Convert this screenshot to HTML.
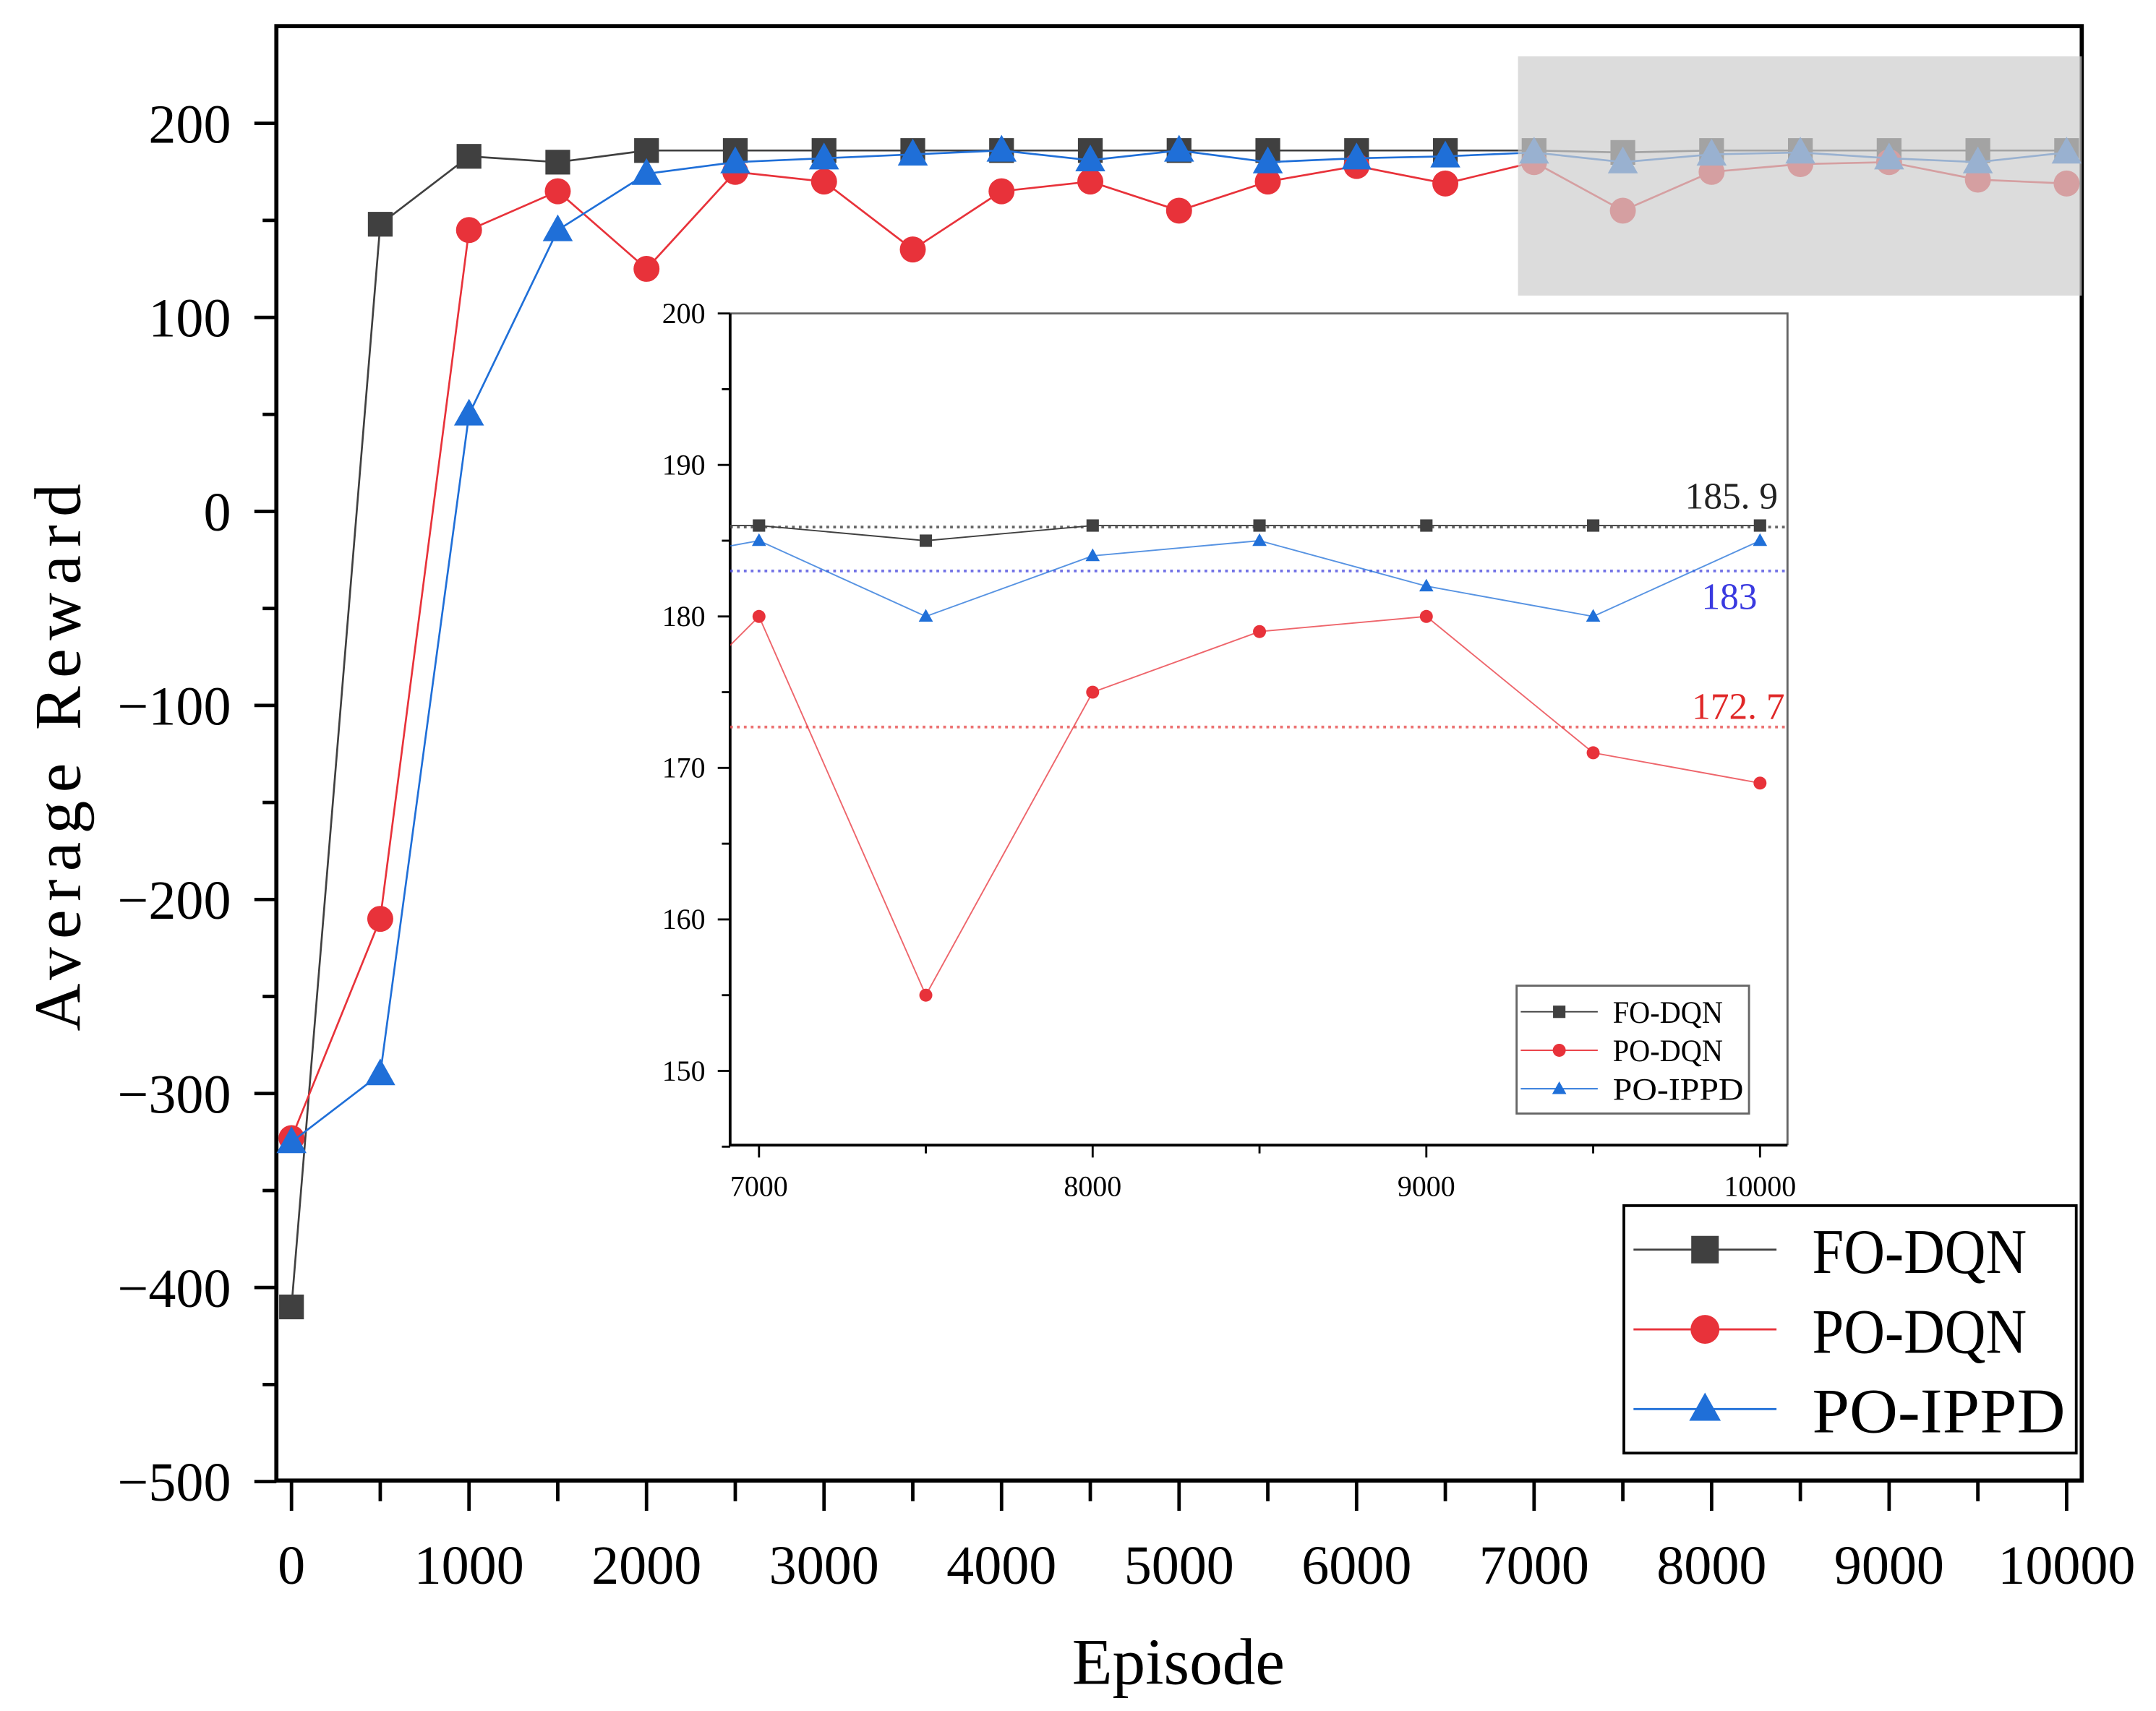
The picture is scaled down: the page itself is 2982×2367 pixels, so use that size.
<!DOCTYPE html>
<html><head><meta charset="utf-8"><style>
html,body{margin:0;padding:0;background:#fff}
svg{display:block}
text{font-family:"Liberation Serif","Noto Serif CJK SC",serif}
</style></head><body>
<svg id="chart" width="2982" height="2367" viewBox="0 0 1568 1244.6" xmlns="http://www.w3.org/2000/svg">
<defs>
<clipPath id="mainclip"><rect x="201" y="19" width="1313" height="1058"/></clipPath>
<clipPath id="insetclip"><rect x="531" y="229" width="768" height="603"/></clipPath>
</defs>
<g id="main"></g>
<g id="inset"></g>
</svg>
<script>
const episodes = [0,500,1000,1500,2000,2500,3000,3500,4000,4500,5000,5500,6000,6500,7000,7500,8000,8500,9000,9500,10000];
const foDqn  = [-410,148,183,180,186,186,186,186,186,186,186,186,186,186,186,185,186,186,186,186,186];
const poDqn  = [-323,-210,145,165,125,175,170,135,165,170,155,170,178,169,180,155,175,179,180,171,169];
const poIppd = [-325,-290,50,145,174,180,182,184,186,181,186,180,182,183,185,180,184,185,182,180,185];
const xTicks = [0,1000,2000,3000,4000,5000,6000,7000,8000,9000,10000];
const yTicks = [-500,-400,-300,-200,-100,0,100,200];
const insetXTicks = [7000,8000,9000,10000];
const insetYTicks = [150,160,170,180,190,200];
const meanLabels = ["185.9","183","172.7"];
const meanValues = [185.9,183,172.7];

const NS="http://www.w3.org/2000/svg";
function mk(parent,tag,attrs,txt){const e=document.createElementNS(NS,tag);for(const k in attrs)e.setAttribute(k,attrs[k]);if(txt!==undefined)e.textContent=txt;parent.appendChild(e);return e;}
const colors={fo:"#404040",po:"#e8323a",ip:"#1f6fd8"};
const series=[["fo",foDqn,"fo-dqn"],["po",poDqn,"po-dqn"],["ip",poIppd,"po-ippd"]];

function marker(g,type,x,y,s,color,name){
  let e;
  if(type==="fo") e=mk(g,"rect",{x:x-s,y:y-s,width:2*s,height:2*s,fill:color});
  else if(type==="po") e=mk(g,"circle",{cx:x,cy:y,r:s*1.05,fill:color});
  else e=mk(g,"polygon",{points:`${x},${y-s*1.2} ${x-s*1.15},${y+s*0.85} ${x+s*1.15},${y+s*0.85}`,fill:color});
  
  
  return e;
}

// MAIN
const M=document.getElementById('main');
const mx=v=>212+v*0.12910, my=v=>372-v*1.4114;
const ax=mk(M,"g",{});


mk(ax,"rect",{x:201,y:19,width:1313,height:1058,fill:"none",stroke:"#000","stroke-width":3});
for(let v=0;v<=10000;v+=500){const X=mx(v);mk(ax,"line",{x1:X,y1:1078,x2:X,y2:v%1000?1092:1099,stroke:"#000","stroke-width":2.5});}
for(let v=-500;v<=200;v+=50){const Y=my(v);mk(ax,"line",{x1:201,y1:Y,x2:v%100?191:185,y2:Y,stroke:"#000","stroke-width":2.5});}
xTicks.forEach(v=>{const t=mk(ax,"text",{x:mx(v),y:1152,"font-size":40,"text-anchor":"middle"},v);});
yTicks.forEach(v=>{const t=mk(ax,"text",{x:168,y:my(v)+14,"font-size":40,"text-anchor":"end"},v===0?"0":String(v).replace("-","\u2212"));});
let t=mk(M,"text",{x:857,y:1225,"font-size":48,"text-anchor":"middle"},"Episode");

t=mk(M,"text",{x:0,y:0,"font-size":48,"text-anchor":"middle",transform:"translate(58,548) rotate(-90)","letter-spacing":"6"},"Average Reward");

const mg=mk(M,"g",{"clip-path":"url(#mainclip)"});
series.forEach(([k,arr,nm])=>{
  mk(mg,"polyline",{points:episodes.map((e,i)=>mx(e)+","+my(arr[i])).join(" "),fill:"none",stroke:colors[k],"stroke-width":1.4});
  episodes.forEach((e,i)=>marker(mg,k,mx(e),my(arr[i]),k==="ip"?9.5:9,colors[k],nm+'-point'));
});
const hl=mk(M,"rect",{x:1104,y:41,width:410,height:174,fill:"rgba(205,205,205,0.7)"});

// main legend
const L=mk(M,"g",{});

mk(L,"rect",{x:1181,y:877,width:329,height:180,fill:"#fff",stroke:"#000","stroke-width":2});
[["fo","FO-DQN"],["po","PO-DQN"],["ip","PO-IPPD"]].forEach(([k,lab],i)=>{
  const y=909+i*58;
  const le=mk(L,"g",{});
  
  mk(le,"line",{x1:1188,y1:y,x2:1292,y2:y,stroke:colors[k],"stroke-width":1.5});
  marker(le,k,1240,y,10,colors[k],'legend-marker');
  mk(le,"text",{x:1318,y:y+17,"font-size":46,textLength:lab.length>6?184:156,lengthAdjust:"spacingAndGlyphs"},lab);
});

// INSET
const I=document.getElementById('inset');
const ix=v=>552+(v-7000)*0.24267, iy=v=>228+(200-v)*11.02;
mk(I,"rect",{x:531,y:228,width:769,height:605,fill:"#fff"});
mk(I,"polyline",{points:"531,228 1300,228 1300,833",fill:"none",stroke:"#666","stroke-width":1.5});
mk(I,"polyline",{points:"531,228 531,833 1300,833",fill:"none",stroke:"#000","stroke-width":2});
for(let v=7000;v<=10000;v+=500){mk(I,"line",{x1:ix(v),y1:833,x2:ix(v),y2:v%1000?839:842,stroke:"#000","stroke-width":1.5});}
for(let v=145;v<=200;v+=5){if(v<150&&v!==145)continue;mk(I,"line",{x1:531,y1:iy(v),x2:v%10?525:522,y2:iy(v),stroke:"#000","stroke-width":1.5});}
insetXTicks.forEach(v=>{const e=mk(I,"text",{x:ix(v),y:870,"font-size":21,"text-anchor":"middle"},v);});
insetYTicks.forEach(v=>{const e=mk(I,"text",{x:513,y:iy(v)+7,"font-size":21,"text-anchor":"end"},v);});
const ig=mk(I,"g",{"clip-path":"url(#insetclip)"});
const meanCols=["#404040","#5050e0","#e85050"];
meanValues.forEach((v,i)=>{
  const l=mk(ig,"line",{x1:531,y1:iy(v),x2:1300,y2:iy(v),stroke:meanCols[i],"stroke-width":2,"stroke-dasharray":"2,3",opacity:0.8});
  
});
series.forEach(([k,arr,nm])=>{
  const pts=episodes.map((e,i)=>[e,arr[i]]).filter(p=>p[0]>=6500);
  mk(ig,"polyline",{points:pts.map(p=>ix(p[0])+","+iy(p[1])).join(" "),fill:"none",stroke:colors[k],"stroke-width":1,opacity:k==="fo"?1:0.75});
  pts.filter(p=>p[0]>=7000).forEach(p=>marker(ig,k,ix(p[0]),iy(p[1]),4.5,colors[k],'inset-'+nm+'-point'));
});
const labY=[370,443,523],labC=["#222","#3a3ae0","#e02828"],labX=[1293,1278,1298];
meanLabels.forEach((s,i)=>{const e=mk(I,"text",{x:labX[i],y:labY[i],"font-size":27,"text-anchor":"end",fill:labC[i]},s.replace(".",". "));});
const IL=mk(I,"g",{});

mk(IL,"rect",{x:1103,y:717,width:169,height:93,fill:"#fff",stroke:"#666","stroke-width":1.5});
[["fo","FO-DQN"],["po","PO-DQN"],["ip","PO-IPPD"]].forEach(([k,lab],i)=>{
  const y=736+i*28;
  mk(IL,"line",{x1:1106,y1:y,x2:1162,y2:y,stroke:colors[k],"stroke-width":1});
  marker(IL,k,1134,y,4.5,colors[k],'inset-legend-marker');
  mk(IL,"text",{x:1173,y:y+8,"font-size":23,textLength:lab.length>6?95:80,lengthAdjust:"spacingAndGlyphs"},lab);
});
</script>
</body></html>
